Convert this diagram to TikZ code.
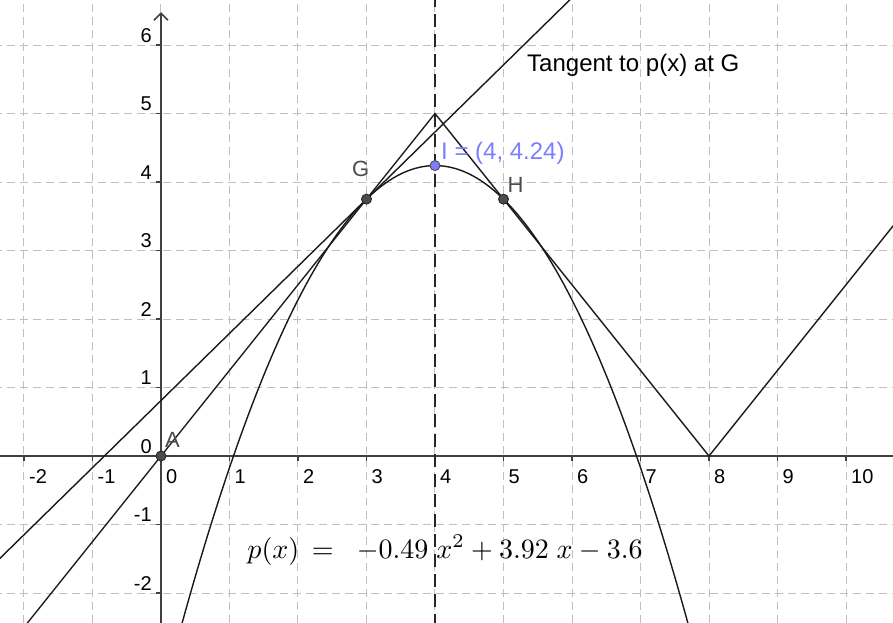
\documentclass[tikz,border=0pt]{standalone}
\usepackage{fontspec}
\usepackage{graphicx}
\newfontfamily\af{Liberation Sans}
\usetikzlibrary{arrows.meta,calc}
\definecolor{ggblue}{RGB}{125,125,255}
\begin{document}
\begin{tikzpicture}[x=68.5pt,y=68.5pt,
  gridln/.style={draw=black!25, line width=1pt, dash pattern=on 8pt off 5pt},
  axisln/.style={draw=black!75, line width=1.6pt},
  curve/.style={draw=black!90, line width=1.4pt},
  ptdot/.style={circle, inner sep=0pt, minimum size=10pt, draw=black!85, line width=0.9pt, fill=black!70},
  ticklbl/.style={font=\af\fontsize{20}{24}\selectfont, inner sep=0pt},
  ptlbl/.style={font=\af\fontsize{22}{26}\selectfont, text=black!70, inner sep=0pt}]
\useasboundingbox (-2.35,-2.423) rectangle (10.686,6.657);
\coordinate (A) at (0,0);
\coordinate (G) at (3,3.75);
\coordinate (H) at (5,3.75);
\coordinate (I) at (4,4.24);
\coordinate (V) at (4,5);
\coordinate (W) at (8,0);
\coordinate (L1) at (-2.6,-3.25);
\coordinate (R1) at (11,3.75);
\coordinate (T1) at (-2.6,-1.738);
\coordinate (T2) at (6.5,7.18);
\coordinate (D1) at (4,-2.5);
\coordinate (D2) at (4,6.7);
\begin{scope}
\clip (-2.35,-2.423) rectangle (10.686,6.657);
\draw[gridln, step={(1,1)}] (-3,-3) grid (11,7);
\draw[axisln] (-2.4,0) -- (10.8,0);
\draw[axisln, -{Straight Barb[length=7pt,width=14pt]}] (0,-2.5) -- (0,6.48);
\foreach \i in {-2,...,10} \draw[axisln, line width=1.2pt] (\i,0) -- ++(0,-5pt);
\foreach \j in {-2,...,6} \draw[axisln, line width=1.2pt] (0,\j) -- ++(-5pt,0);
\draw[black!85, line width=1.4pt, dash pattern=on 13pt off 7pt] (D1) -- (D2);
\draw[curve] (L1) -- (V) -- (W) -- (R1);
\draw[curve] (T1) -- (T2);
\draw[curve] plot[domain=0.2:7.8, samples=120] (\x, {-0.49*\x*\x+3.92*\x-3.6});
\end{scope}
\foreach \i in {-2,...,10} \node[ticklbl, anchor=base west] at ([shift={(5pt,-27pt)}]\i,0) {\i};
\foreach \j in {-2,...,6} \node[ticklbl, anchor=base east] at ([shift={(-9pt,3pt)}]0,\j) {\j};
\node[ptdot] (Ap) at (A) {};
\node[ptdot] (Gp) at (G) {};
\node[ptdot] (Hp) at (H) {};
\node[ptdot, fill=ggblue, draw=black!70] (Ip) at (I) {};
\node[ptlbl, anchor=base east] (Gl) at ([shift={(3pt,23pt)}]G) {G};
\node[ptlbl, anchor=base west] (Hl) at ([shift={(4pt,7pt)}]H) {H};
\node[ptlbl, anchor=base west] (Al) at ([shift={(4pt,9pt)}]A) {A};
\node[font=\af\fontsize{24}{28}\selectfont, text=ggblue, anchor=base west, inner sep=0pt] (Il) at ([shift={(6pt,6pt)}]I) {I = (4, 4.24)};
\node[font=\af\fontsize{24}{28}\selectfont, anchor=base west, inner sep=0pt] (tl) at (5.343,5.606) {Tangent to p(x) at G};
\node[anchor=base west, inner sep=0pt] (fl) at (1.26,-1.489) {\scalebox{2.8}{$p(x)\,=\;\;{-0.49}\;x^{2}+3.92\;x-3.6$}};
\end{tikzpicture}
\end{document}
